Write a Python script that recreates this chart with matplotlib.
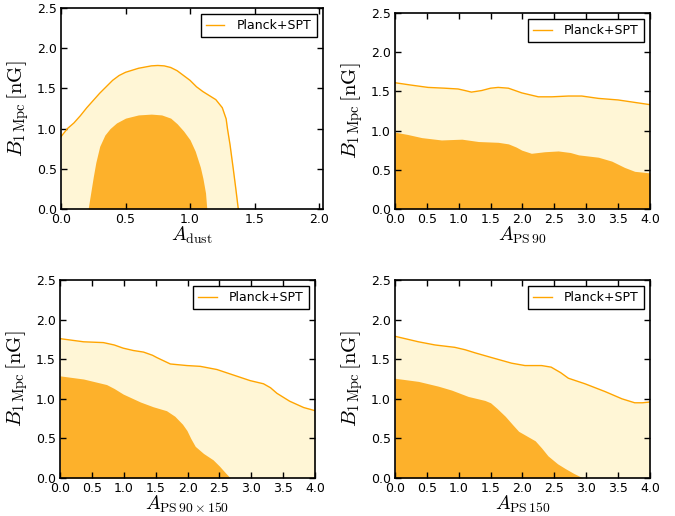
import numpy as np
import matplotlib
matplotlib.use('Agg')
import matplotlib.pyplot as plt

plt.rcParams['mathtext.fontset'] = 'cm'
plt.rcParams['font.family'] = 'DejaVu Sans'

# --- data: outer (95%) and inner (68%) contours ---
# A_dust panel
dust_out_x = [0.0, 0.05, 0.1, 0.15, 0.2, 0.25, 0.3, 0.35, 0.4, 0.45, 0.5, 0.6, 0.7, 0.75, 0.8, 0.85,
              0.9, 0.95, 1.0, 1.05, 1.1, 1.15, 1.2, 1.25, 1.28, 1.29, 1.31, 1.335, 1.355, 1.374]
dust_out_y = [0.9, 1.0, 1.07, 1.16, 1.26, 1.35, 1.44, 1.52, 1.6, 1.66, 1.7, 1.75, 1.78, 1.785, 1.78, 1.76,
              1.72, 1.66, 1.6, 1.52, 1.46, 1.41, 1.36, 1.26, 1.12, 1.0, 0.8, 0.5, 0.25, 0.0]
dust_in_x = [0.21, 0.23, 0.25, 0.27, 0.3, 0.34, 0.38, 0.43, 0.5, 0.6, 0.7, 0.78, 0.85, 0.9, 0.95,
             1.0, 1.04, 1.08, 1.1, 1.12, 1.13]
dust_in_y = [0.0, 0.2, 0.4, 0.58, 0.78, 0.92, 1.0, 1.07, 1.13, 1.17, 1.18, 1.17, 1.13, 1.06, 0.97,
             0.86, 0.72, 0.52, 0.38, 0.2, 0.0]

# A_PS90 panel
ps90_out_x = [0.0, 0.25, 0.52, 0.78, 0.99, 1.1, 1.2, 1.36, 1.5, 1.62, 1.78, 1.99, 2.25, 2.46, 2.72, 2.93, 3.19, 3.5, 3.75, 4.0]
ps90_out_y = [1.61, 1.58, 1.55, 1.54, 1.53, 1.51, 1.49, 1.51, 1.54, 1.55, 1.54, 1.48, 1.43, 1.43, 1.44, 1.44, 1.41, 1.39, 1.36, 1.33]
ps90_in_x = [0.0, 0.2, 0.42, 0.73, 1.05, 1.31, 1.62, 1.78, 1.9, 1.99, 2.14, 2.35, 2.56, 2.75, 2.88, 3.19, 3.4, 3.6, 3.76, 4.0]
ps90_in_y = [0.98, 0.95, 0.91, 0.88, 0.89, 0.86, 0.85, 0.83, 0.79, 0.75, 0.71, 0.73, 0.74, 0.72, 0.69, 0.66, 0.61, 0.53, 0.48, 0.46]

# A_PS90x150 panel
ps90x150_out_x = [0.0, 0.37, 0.68, 0.85, 0.99, 1.15, 1.31, 1.45, 1.52, 1.73, 1.99, 2.2, 2.46, 2.72, 2.98, 3.19,
                  3.3, 3.4, 3.6, 3.82, 4.0]
ps90x150_out_y = [1.76, 1.72, 1.71, 1.68, 1.64, 1.61, 1.59, 1.55, 1.52, 1.44, 1.42, 1.41, 1.37, 1.30, 1.23, 1.19,
                  1.14, 1.07, 0.97, 0.89, 0.85]
ps90x150_in_x = [0.0, 0.37, 0.73, 0.85, 0.99, 1.26, 1.46, 1.67, 1.8, 1.92, 1.99, 2.05, 2.12, 2.25, 2.4, 2.5, 2.6, 2.67]
ps90x150_in_y = [1.29, 1.25, 1.18, 1.13, 1.06, 0.96, 0.9, 0.85, 0.78, 0.68, 0.6, 0.5, 0.4, 0.31, 0.23, 0.15, 0.06, 0.0]

# A_PS150 panel
ps150_out_x = [0.0, 0.37, 0.63, 0.94, 1.1, 1.26, 1.52, 1.83, 2.04, 2.3, 2.45, 2.6, 2.72, 2.98, 3.3, 3.56, 3.76, 3.88, 4.0]
ps150_out_y = [1.79, 1.72, 1.68, 1.65, 1.62, 1.58, 1.52, 1.45, 1.42, 1.42, 1.40, 1.33, 1.26, 1.19, 1.09, 1.0, 0.95, 0.95, 0.96]
ps150_in_x = [0.0, 0.37, 0.68, 0.89, 1.15, 1.41, 1.5, 1.6, 1.73, 1.85, 1.94, 2.2, 2.3, 2.4, 2.55, 2.67, 2.8, 2.95]
ps150_in_y = [1.26, 1.22, 1.16, 1.11, 1.03, 0.98, 0.95, 0.88, 0.78, 0.67, 0.59, 0.47, 0.38, 0.28, 0.18, 0.12, 0.06, 0.0]

light = '#fff6d6'
dark = '#fdb12b'
edge = '#ffa500'

panels = [
    # (rect, out_x, out_y, in_x, in_y, xlim, xlabel)
    ([0.0904, 0.595, 0.388, 0.3895], dust_out_x, dust_out_y, dust_in_x, dust_in_y,
     (0, 2.03), r'$A_{\mathrm{dust}}$'),
    ([0.585, 0.595, 0.378, 0.380], ps90_out_x, ps90_out_y, ps90_in_x, ps90_in_y,
     (0, 4), r'$A_{\mathrm{PS}\,90}$'),
    ([0.0889, 0.0736, 0.378, 0.3837], ps90x150_out_x, ps90x150_out_y, ps90x150_in_x, ps90x150_in_y,
     (0, 4), r'$A_{\mathrm{PS}\,90\times150}$'),
    ([0.585, 0.0736, 0.378, 0.3837], ps150_out_x, ps150_out_y, ps150_in_x, ps150_in_y,
     (0, 4), r'$A_{\mathrm{PS}\,150}$'),
]

fig = plt.figure(figsize=(6.75, 5.16), dpi=100)

for rect, ox, oy, ix, iy, xlim, xlab in panels:
    ax = fig.add_axes(rect)
    ax.fill_between(ox, 0, oy, color=light, lw=0)
    ax.fill_between(ix, 0, iy, color=dark, lw=0)
    ax.plot(ox, oy, color=edge, lw=1.0, label='Planck+SPT')
    ax.set_xlim(*xlim)
    ax.set_ylim(0, 2.5)
    ax.set_xticks(np.arange(0, xlim[1] + 0.01, 0.5))
    ax.set_yticks(np.arange(0, 2.51, 0.5))
    ax.xaxis.set_major_formatter(matplotlib.ticker.FormatStrFormatter('%.1f'))
    ax.yaxis.set_major_formatter(matplotlib.ticker.FormatStrFormatter('%.1f'))
    ax.tick_params(direction='in', top=True, right=True, length=4, width=1,
                   labelsize=9, pad=3)
    for s in ax.spines.values():
        s.set_linewidth(1.2)
    ax.set_xlabel(xlab, fontsize=14, labelpad=-1)
    ax.set_ylabel(r'$B_{1\,\mathrm{Mpc}}\,[\mathrm{nG}]$', fontsize=15, labelpad=4)
    leg = ax.legend(loc='upper right', fontsize=9, fancybox=False, framealpha=1,
                    handlelength=1.5, handletextpad=1.0, borderpad=0.4, borderaxespad=0.5)
    leg.get_frame().set_edgecolor('black')
    leg.get_frame().set_linewidth(1.0)

fig.savefig('out.png', dpi=100)
